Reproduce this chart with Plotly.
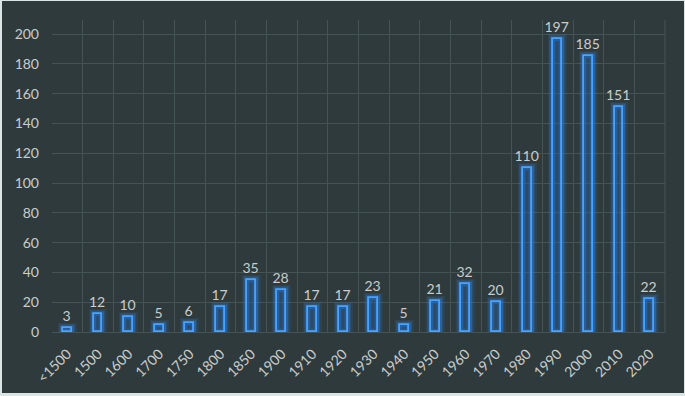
import plotly.graph_objects as go

categories = ["<1500", "1500", "1600", "1700", "1750", "1800", "1850", "1900", "1910", "1920",
              "1930", "1940", "1950", "1960", "1970", "1980", "1990", "2000", "2010", "2020"]
values = [3, 12, 10, 5, 6, 17, 35, 28, 17, 17, 23, 5, 21, 32, 20, 110, 197, 185, 151, 22]
y_ticks = [0, 20, 40, 60, 80, 100, 120, 140, 160, 180, 200]

W, H = 685, 396
ML, MR, MT, MB = 52, 20, 20, 64
PW, PH = W - ML - MR, H - MT - MB

BG = "#2f3a3c"
FRAME = "#dbe5e5"
GRID = "#465355"
TXT = "#c9cdcd"
FONT = "Lato, Carlito, 'Open Sans', sans-serif"
BW = 0.29

fig = go.Figure()
# glow layers
for lw, a in [(10, 0.10), (7, 0.18), (4.5, 0.32)]:
    fig.add_trace(go.Bar(
        x=categories, y=values, width=BW,
        marker=dict(color="rgba(0,0,0,0)", line=dict(color=f"rgba(40,140,255,{a})", width=lw)),
        hoverinfo="skip", showlegend=False))
fig.add_trace(go.Bar(
    x=categories, y=values, width=BW,
    marker=dict(color="rgba(40,90,140,0.35)", line=dict(color="#4aa2ff", width=1.8)),
    text=[str(v) for v in values], textposition="outside", constraintext="none",
    textfont=dict(color=TXT, size=14, family=FONT),
    cliponaxis=False, showlegend=False))


def px2paper_x(px):
    return (px - ML) / PW


def px2paper_y(py):
    return 1 - (py - MT) / PH


shapes = [
    dict(type="rect", xref="paper", yref="paper", layer="below",
         x0=px2paper_x(2), x1=px2paper_x(684), y0=px2paper_y(393), y1=px2paper_y(1),
         fillcolor=BG, line=dict(width=0)),
    dict(type="line", xref="paper", yref="paper", layer="below",
         x0=1, x1=1, y0=0, y1=1, line=dict(color=GRID, width=1)),
]

fig.update_layout(
    width=W, height=H,
    margin=dict(l=ML, r=MR, t=MT, b=MB, autoexpand=False),
    paper_bgcolor=FRAME, plot_bgcolor="rgba(0,0,0,0)",
    barmode="overlay", bargap=0,
    uniformtext=dict(minsize=14, mode="show"),
    shapes=shapes,
    font=dict(family=FONT, color=TXT, size=13),
    xaxis=dict(type="category", tickson="boundaries", showgrid=True, gridcolor=GRID, gridwidth=1,
               tickangle=-45, ticks="", ticklabelstandoff=10, automargin=False,
               tickfont=dict(size=14, color=TXT, family=FONT),
               range=[-0.5, 19.5], showline=False, zeroline=False),
    yaxis=dict(range=[0, 209.5], tickvals=y_ticks, showgrid=True, gridcolor=GRID, gridwidth=1,
               zeroline=True, zerolinecolor=GRID, zerolinewidth=1, automargin=False,
               ticks="", ticklabelstandoff=12, tickfont=dict(size=14, color=TXT, family=FONT)),
)

fig.write_html("out.html", config={"displayModeBar": False},
               post_script="document.body.style.margin='0';document.body.style.background='#dbe5e5';")
